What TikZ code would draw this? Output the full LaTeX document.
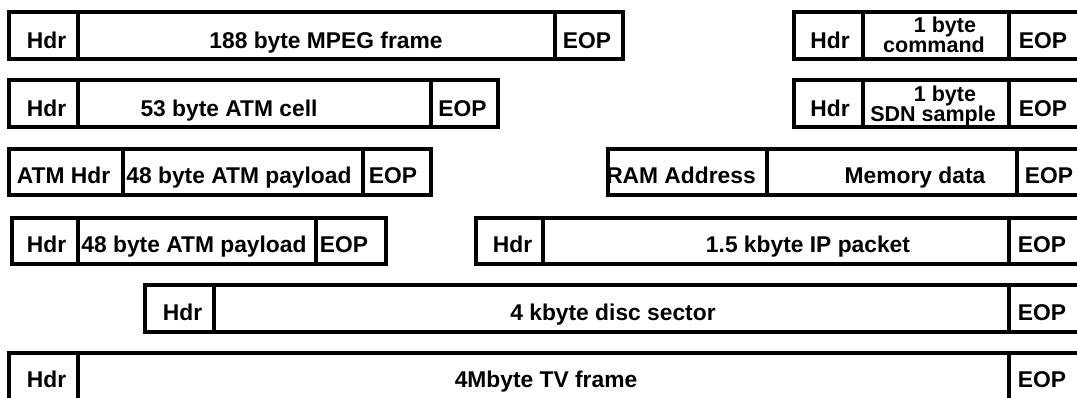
\documentclass[tikz,border=0pt]{standalone}
\usepackage{fontspec}
\setmainfont{Liberation Sans}

\begin{document}
\begin{tikzpicture}[x=1pt,y=-1pt,
  field/.style={draw=black,line width=3.2pt},
  lbl/.style={font=\fontsize{22.8}{24}\selectfont\bfseries,anchor=base,inner sep=0pt},
  sublbl/.style={lbl,font=\fontsize{21.5}{22}\selectfont\bfseries}]
\clip (0,0) rectangle (1077,397);
\fill[white] (0,0) rectangle (1077,397);
% MPEG frame
\draw[field] (9,12) rectangle (78,59);
\draw[field] (78,12) rectangle (555,59);
\draw[field] (555,12) rectangle (623,59);
\node[lbl] (hdrMpeg) at (46.5,48) {Hdr};
\node[lbl] (bodyMpeg) at (326,48) {188 byte MPEG frame};
\node[lbl] (eopMpeg) at (587,48) {EOP};
% command
\draw[field] (794,12) rectangle (863,59);
\draw[field] (863,12) rectangle (1009,59);
\draw[field] (1009,12) rectangle (1085,59);
\node[lbl] (hdrCmd) at (830,48) {Hdr};
\node[sublbl] (topCmd) at (945,32) {1 byte};
\node[sublbl] (bodyCmd) at (934,52.5) {command};
\node[lbl] (eopCmd) at (1043,48) {EOP};
% ATM cell
\draw[field] (9,80) rectangle (78,127);
\draw[field] (78,80) rectangle (431,127);
\draw[field] (431,80) rectangle (498,127);
\node[lbl] (hdrCell) at (46.5,116) {Hdr};
\node[lbl] (bodyCell) at (229,116) {53 byte ATM cell};
\node[lbl] (eopCell) at (462.5,116) {EOP};
% SDN sample
\draw[field] (794,80) rectangle (863,127);
\draw[field] (863,80) rectangle (1009,127);
\draw[field] (1009,80) rectangle (1085,127);
\node[lbl] (hdrSdn) at (830,116) {Hdr};
\node[sublbl] (topSdn) at (945,101) {1 byte};
\node[sublbl] (bodySdn) at (933,121) {SDN sample};
\node[lbl] (eopSdn) at (1043,116) {EOP};
% ATM payload
\draw[field] (9,149) rectangle (123,195);
\draw[field] (123,149) rectangle (363,195);
\draw[field] (363,149) rectangle (431,195);
\node[lbl] (hdrAtm) at (63.5,183) {ATM Hdr};
\node[lbl] (bodyAtm) at (239,183) {48 byte ATM payload};
\node[lbl] (eopAtm) at (393,183) {EOP};
% memory
\draw[field] (608,149) rectangle (767,195);
\draw[field] (767,149) rectangle (1017,195);
\draw[field] (1017,149) rectangle (1085,195);
\node[lbl] (addrMem) at (681,183) {RAM Address};
\node[lbl] (bodyMem) at (915,183) {Memory data};
\node[lbl] (eopMem) at (1049,183) {EOP};
% payload with header
\draw[field] (12,218) rectangle (78,264);
\draw[field] (78,218) rectangle (316,264);
\draw[field] (316,218) rectangle (386,264);
\node[lbl] (hdrPay) at (46.5,252) {Hdr};
\node[lbl] (bodyPay) at (194,252) {48 byte ATM payload};
\node[lbl] (eopPay) at (344,252) {EOP};
% IP packet
\draw[field] (476,218) rectangle (543,264);
\draw[field] (543,218) rectangle (1009,264);
\draw[field] (1009,218) rectangle (1085,264);
\node[lbl] (hdrIp) at (512.5,252) {Hdr};
\node[lbl] (bodyIp) at (808,252) {1.5 kbyte IP packet};
\node[lbl] (eopIp) at (1042,252) {EOP};
% disc sector
\draw[field] (145,285) rectangle (214,332);
\draw[field] (214,285) rectangle (1009,332);
\draw[field] (1009,285) rectangle (1085,332);
\node[lbl] (hdrDisc) at (182.5,320) {Hdr};
\node[lbl] (bodyDisc) at (613,320) {4 kbyte disc sector};
\node[lbl] (eopDisc) at (1042,320) {EOP};
% TV frame
\draw[field] (9,353) rectangle (78,405);
\draw[field] (78,353) rectangle (1009,405);
\draw[field] (1009,353) rectangle (1085,405);
\node[lbl] (hdrTv) at (46.5,387) {Hdr};
\node[lbl] (bodyTv) at (546,387) {4Mbyte TV frame};
\node[lbl] (eopTv) at (1042,387) {EOP};

\end{tikzpicture}
\end{document}
